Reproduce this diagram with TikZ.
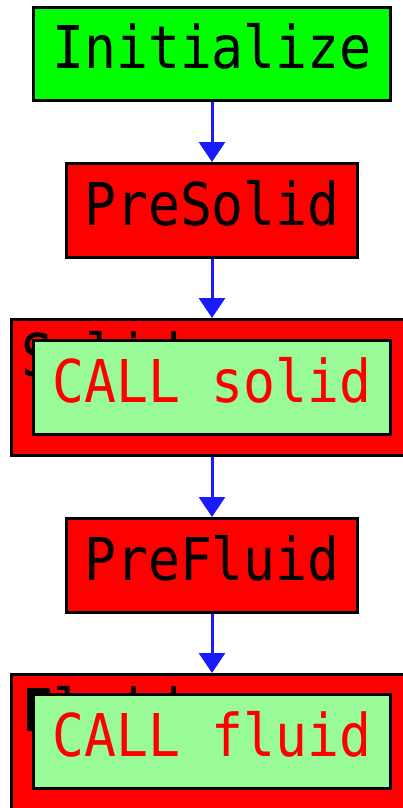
\documentclass[tikz,border=0pt]{standalone}
\usepackage{fontspec}
\usetikzlibrary{arrows.meta}
\newfontfamily\boxmono[FakeStretch=0.9]{DejaVu Sans Mono}
\definecolor{brightgreen}{HTML}{00FF00}
\definecolor{palegrn}{HTML}{98FB98}
\definecolor{brightred}{HTML}{FF0000}
\definecolor{arrowblue}{HTML}{1A1AFF}
\tikzset{
  box/.style={draw=black, line width=3pt, rectangle, inner sep=0pt,
    anchor=north west, font=\boxmono\fontsize{59pt}{59pt}\selectfont,
    text height=43pt, text depth=14pt},
  initbox/.style={box, fill=brightgreen, minimum width=357pt, minimum height=93pt},
  prebox/.style={box, fill=brightred, minimum width=291pt, minimum height=94pt},
  outerbox/.style={draw=black, line width=3pt, fill=brightred, rectangle, anchor=north west,
    minimum width=410pt, minimum height=136pt, inner sep=0pt},
  callbox/.style={box, fill=palegrn, text=brightred, minimum width=357pt, minimum height=94pt},
  hidden/.style={anchor=base west, inner sep=0pt, text=black,
    font=\boxmono\fontsize{59pt}{59pt}\selectfont},
  flow/.style={draw=arrowblue, line width=3pt, -{Triangle[width=26pt,length=20pt]}}
}
\begin{document}
\begin{tikzpicture}[x=1pt,y=-1pt]
\useasboundingbox (0,0) rectangle (403,808);
\node[initbox] (init) at (32,6) {Initialize};
\node[prebox] (presolid) at (65,162) {PreSolid};
\node[outerbox] (solidouter) at (10,318) {};
\node[hidden] (solidname) at (21,376) {Solid};
\node[callbox] (callsolid) at (32,339) {CALL solid};
\node[prebox] (prefluid) at (65,517) {PreFluid};
\node[outerbox] (fluidouter) at (10,673) {};
\node[hidden] (fluidname) at (21,731) {Fluid};
\node[callbox] (callfluid) at (32,693) {CALL fluid};
\draw[flow] (init.south -| presolid.north) -- (presolid.north);
\draw[flow] (presolid.south) -- (solidouter.north -| presolid.south);
\draw[flow] (solidouter.south -| prefluid.north) -- (prefluid.north);
\draw[flow] (prefluid.south) -- (fluidouter.north -| prefluid.south);
\end{tikzpicture}
\end{document}
